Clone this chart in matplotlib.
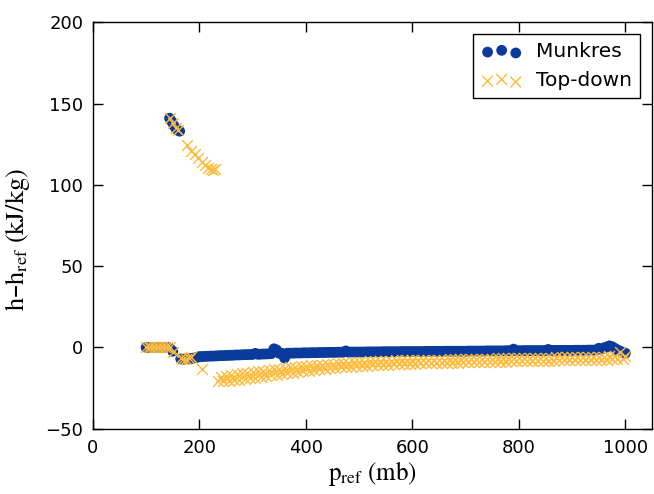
import numpy as np
import matplotlib as mpl
mpl.use('Agg')
import matplotlib.pyplot as plt

mpl.rcParams['mathtext.fontset'] = 'stix'

# Munkres matching: h - h_ref (kJ/kg) against p_ref (mb)
mk_p = [100, 105, 110, 115, 120, 125, 130, 135, 140, 145, 150,
        144, 148, 152, 156, 160, 163,
        165, 170, 175, 180, 185, 190,
        195, 200, 205, 210, 215, 220, 225, 230, 235, 240,
        245, 250, 255, 260, 265, 270, 275, 280, 285, 290,
        295, 300, 305, 310, 315, 320, 325, 330, 335, 340,
        345, 350, 355, 360, 365, 370, 375, 380, 385, 390,
        395, 400, 405, 410, 415, 420, 425, 430, 435, 440,
        445, 450, 455, 460, 465, 470, 475, 480, 485, 490,
        495, 500, 505, 510, 515, 520, 525, 530, 535, 540,
        545, 550, 555, 560, 565, 570, 575, 580, 585, 590,
        595, 600, 605, 610, 615, 620, 625, 630, 635, 640,
        645, 650, 655, 660, 665, 670, 675, 680, 685, 690,
        695, 700, 705, 710, 715, 720, 725, 730, 735, 740,
        745, 750, 755, 760, 765, 770, 775, 780, 785, 790,
        795, 800, 805, 810, 815, 820, 825, 830, 835, 840,
        845, 850, 855, 860, 865, 870, 875, 880, 885, 890,
        895, 900, 905, 910, 915, 920, 925, 930, 935, 940,
        945, 950, 955, 960, 965, 970, 975, 980, 985, 990,
        995, 1000]
mk_h = [0.0, 0.0, 0.0, 0.0, 0.0, 0.0, 0.0, 0.0, 0.0, -0.5, -2.3,
        141.0, 139.0, 136.5, 134.5, 133.5, 133.0,
        -7.0, -7.2, -7.0, -7.0, -6.8, -6.5,
        -6.2, -5.6, -5.6, -5.5, -5.4, -5.3, -5.3, -5.2, -5.1, -5.0,
        -5.0, -4.9, -4.8, -4.8, -4.7, -4.6, -4.6, -4.5, -4.4, -4.4,
        -4.3, -4.3, -3.6, -4.2, -4.1, -4.0, -4.0, -3.9, -3.8, -0.8,
        -1.5, -3.6, -3.6, -6.5, -3.5, -3.5, -3.5, -3.4, -3.4, -3.4,
        -3.3, -3.3, -3.3, -3.2, -3.2, -3.2, -3.1, -3.1, -3.1, -3.0,
        -3.0, -3.0, -3.0, -2.9, -2.9, -2.9, -2.1, -2.9, -2.8, -2.8,
        -2.8, -2.8, -2.8, -2.8, -2.7, -2.7, -2.7, -2.7, -2.7, -2.7,
        -2.6, -2.6, -2.6, -2.6, -2.6, -2.6, -2.6, -2.5, -2.5, -2.5,
        -2.5, -2.5, -2.5, -2.5, -2.5, -2.5, -2.4, -2.4, -2.4, -2.4,
        -2.4, -2.4, -2.4, -2.3, -2.3, -2.3, -2.3, -2.3, -2.3, -2.3,
        -2.3, -2.3, -2.2, -2.2, -2.2, -2.2, -2.2, -2.2, -2.2, -2.1,
        -2.1, -2.1, -2.1, -2.1, -2.1, -2.1, -2.0, -2.0, -2.0, -1.0,
        -2.0, -2.0, -2.0, -1.9, -1.9, -1.9, -1.9, -1.9, -1.9, -1.9,
        -1.9, -1.9, -1.2, -1.8, -1.8, -1.8, -1.8, -1.8, -1.8, -1.8,
        -1.8, -1.8, -1.7, -1.7, -1.7, -1.7, -1.7, -1.6, -1.6, -1.6,
        -1.5, -0.5, -1.2, -0.2, 0.3, 1.0, 0.5, -0.5, -1.5, -2.2,
        -3.0, -3.5]

# Top-down matching
td_p = [100, 105, 110, 115, 120, 125, 130, 135, 140, 145, 150,
        144, 150, 156, 160, 177, 185, 192, 198, 204, 210, 216, 221, 226, 230,
        165, 170, 175, 180, 185, 205,
        235, 240, 245, 250, 255, 260, 265, 270, 275, 280,
        285, 290, 295, 300, 305, 310, 315, 320, 325, 330,
        335, 340, 345, 350, 355, 360, 365, 370, 375, 380,
        385, 390, 395, 400, 405, 410, 415, 420, 425, 430,
        435, 440, 445, 450, 455, 460, 465, 470, 475, 480,
        485, 490, 495, 500, 505, 510, 515, 520, 525, 530,
        535, 540, 545, 550, 555, 560, 565, 570, 575, 580,
        585, 590, 595, 600, 605, 610, 615, 620, 625, 630,
        635, 640, 645, 650, 655, 660, 665, 670, 675, 680,
        685, 690, 695, 700, 705, 710, 715, 720, 725, 730,
        735, 740, 745, 750, 755, 760, 765, 770, 775, 780,
        785, 790, 795, 800, 805, 810, 815, 820, 825, 830,
        835, 840, 845, 850, 855, 860, 865, 870, 875, 880,
        885, 890, 895, 900, 905, 910, 915, 920, 925, 930,
        935, 940, 945, 950, 955, 960, 965, 970, 975, 980,
        985, 990, 995, 1000]
td_h = [0.0, 0.0, 0.0, 0.0, 0.0, 0.0, 0.0, 0.0, 0.0, 0.0, -3.0,
        141.0, 138.0, 135.0, 133.5, 124.5, 121.0, 119.0, 116.5, 114.0, 112.0, 110.5, 110.0, 109.0, 109.5,
        -6.5, -7.0, -7.0, -6.5, -6.0, -13.5,
        -20.8, -18.4, -20.5, -17.6, -20.8, -17.0, -20.3, -16.6, -19.8, -16.0,
        -19.2, -15.5, -18.8, -15.2, -18.5, -14.6, -18.0, -14.2, -17.5, -14.0,
        -17.2, -13.5, -16.8, -13.2, -16.4, -12.8, -16.0, -12.3, -15.6, -11.8,
        -15.0, -11.5, -14.6, -11.2, -14.2, -11.0, -13.8, -10.8, -13.5, -10.5,
        -13.2, -10.2, -12.8, -9.9, -12.6, -9.7, -12.3, -9.5, -12.0, -9.3,
        -11.8, -9.1, -11.6, -8.9, -11.4, -8.7, -11.2, -8.6, -11.0, -8.4,
        -10.9, -8.3, -10.7, -8.2, -10.6, -8.1, -10.4, -8.0, -10.3, -7.9,
        -10.2, -7.8, -10.1, -7.8, -9.9, -7.8, -9.8, -7.7, -9.7, -7.6,
        -9.6, -7.5, -9.5, -7.4, -9.5, -7.4, -9.4, -7.3, -9.3, -7.2,
        -9.3, -7.1, -9.2, -7.1, -9.1, -7.0, -9.1, -6.9, -9.0, -6.9,
        -8.9, -6.8, -8.9, -6.8, -8.8, -6.7, -8.8, -6.6, -8.7, -6.6,
        -8.6, -6.5, -8.6, -6.5, -8.5, -6.4, -8.4, -6.4, -8.4, -6.3,
        -8.3, -6.3, -8.2, -6.2, -8.2, -6.2, -8.1, -6.1, -8.0, -6.1,
        -8.0, -6.0, -7.9, -6.0, -7.8, -5.9, -7.8, -5.9, -7.7, -5.8,
        -7.6, -5.8, -7.6, -5.7, -7.5, -5.6, -7.4, -5.5, -7.3, -5.4,
        -7.2, -2.8, -6.8, -5.5]

fig = plt.figure(figsize=(6.54, 4.94), dpi=100)
ax = fig.add_axes([0.142, 0.132, 0.855, 0.823])

ax.scatter(mk_p, mk_h, s=60, color='#0a3a9c', edgecolors='none', label='Munkres')
ax.scatter(td_p, td_h, s=60, marker='x', color='#fdbb3f', linewidths=1.0,
           label='Top-down')

ax.set_xlim(0, 1050)
ax.set_ylim(-50, 200)
ax.set_xticks([0, 200, 400, 600, 800, 1000])
ax.set_yticks([-50, 0, 50, 100, 150, 200])
ax.tick_params(direction='in', length=7, width=1, top=True, right=True,
               labelsize=13, pad=7)
for s in ax.spines.values():
    s.set_linewidth(1.0)

ax.set_xlabel(r'$\mathrm{p_{ref}\ (mb)}$', fontsize=18, labelpad=2)
ax.set_ylabel(r'$\mathrm{h}$–$\mathrm{h_{ref}\ (kJ/kg)}$', fontsize=19)
ax.yaxis.set_label_coords(-0.108, 0.465)

leg = ax.legend(loc='upper right', scatterpoints=3, fontsize=14.5,
                fancybox=False, framealpha=1, edgecolor='black',
                borderaxespad=0.6, handletextpad=0.7, handlelength=2.0)
leg.get_frame().set_linewidth(1.0)

fig.savefig('out.png', dpi=100)
